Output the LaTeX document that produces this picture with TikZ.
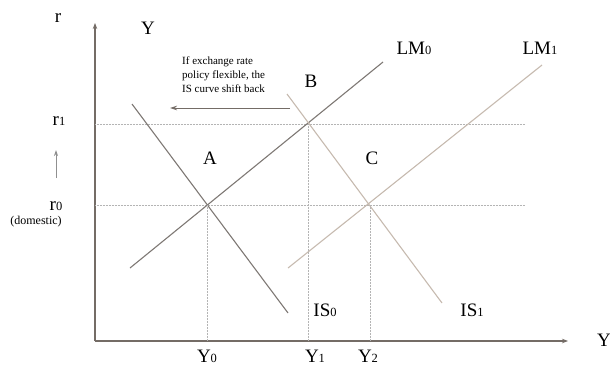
\documentclass[tikz,border=0pt]{standalone}
\usepackage{fontspec}
\setmainfont{Liberation Serif}
\usetikzlibrary{positioning, arrows.meta}
\definecolor{axisgray}{HTML}{746C66}
\definecolor{darkcurve}{HTML}{7E7874}
\definecolor{lightcurve}{HTML}{C6BAAF}
\definecolor{guidegray}{HTML}{B4B4B4}
\newcommand{\lo}[1]{{\fontsize{12.5}{12.5}\selectfont #1}}

\begin{document}
\begin{tikzpicture}[x=1pt, y=-1pt,
  axis/.style={draw=axisgray, line width=1.1pt, -{Stealth[length=6pt, width=4.5pt]}},
  curvezero/.style={draw=darkcurve, line width=1.1pt},
  curveone/.style={draw=lightcurve, line width=1.1pt},
  guide/.style={draw=guidegray, densely dotted, line width=0.5pt},
  lbl/.style={font=\fontsize{19}{19}\selectfont, inner sep=0pt},
  note/.style={font=\fontsize{11}{13.7}\selectfont, inner sep=0pt, align=left}]
  \useasboundingbox (0,0) rectangle (610,367);
  % axes
  \coordinate (origin) at (95,341);
  \coordinate (rtop) at (95,23);
  \coordinate (yend) at (568,341);
  \draw[axis] (origin) -- (rtop);
  \draw[axis] (origin) -- (yend);
  \node[lbl] (rlab) at (58,18) {r};
  \node[lbl] (ylab) at (148,28) {Y};
  \node[lbl] (yright) at (604,340) {Y};
  % interest rate levels
  \coordinate (rone) at (95,124);
  \coordinate (roneend) at (525,124);
  \coordinate (rzero) at (95,205);
  \coordinate (rzeroend) at (525,205);
  \draw[guide] (rone) -- (roneend);
  \draw[guide] (rzero) -- (rzeroend);
  \node[lbl] (r1lab) at (59,121) {r\lo{1}};
  \node[lbl] (r0lab) at (56,206) {r\lo{0}};
  \node[font=\fontsize{12}{12}\selectfont, inner sep=0pt] (dom) at (36,222) {(domestic)};
  \coordinate (upfrom) at (56,178);
  \coordinate (upto) at (56,150);
  \draw[draw=guidegray!80!black, line width=0.8pt, -{Stealth[length=6pt, width=4pt]}] (upfrom) -- (upto);
  % curves
  \coordinate (lm0s) at (130,268);
  \coordinate (lm0e) at (383,62);
  \coordinate (lm1s) at (288,268);
  \coordinate (lm1e) at (542,65);
  \coordinate (is0s) at (132,104);
  \coordinate (is0e) at (288,313);
  \coordinate (is1s) at (287,94);
  \coordinate (is1e) at (442,303);
  \draw[curvezero] (lm0s) -- (lm0e);
  \draw[curveone] (lm1s) -- (lm1e);
  \draw[curvezero] (is0s) -- (is0e);
  \draw[curveone] (is1s) -- (is1e);
  \node[lbl] (lm0lab) at (414,48) {LM\lo{0}};
  \node[lbl] (lm1lab) at (540,48) {LM\lo{1}};
  \node[lbl] (is0lab) at (325,310) {IS\lo{0}};
  \node[lbl] (is1lab) at (472,310) {IS\lo{1}};
  % equilibria
  \coordinate (ptA) at (207,205);
  \coordinate (ptB) at (308,124);
  \coordinate (ptC) at (370,205);
  \coordinate (footA) at (207,341);
  \coordinate (footB) at (308,341);
  \coordinate (footC) at (370,341);
  \draw[guide] (ptA) -- (footA);
  \draw[guide] (ptB) -- (footB);
  \draw[guide] (ptC) -- (footC);
  \node[lbl] (alab) at (210,158) {A};
  \node[lbl] (blab) at (311,81) {B};
  \node[lbl] (clab) at (372,158) {C};
  \node[lbl] (y0lab) at (207,356) {Y\lo{0}};
  \node[lbl] (y1lab) at (315,356) {Y\lo{1}};
  \node[lbl] (y2lab) at (368,356) {Y\lo{2}};
  % shift back
  \node[note, anchor=north west] (shift) at (182,57) {If exchange rate\\policy flexible, the\\IS curve shift back};
  \coordinate (shiftfrom) at (290,108);
  \coordinate (shiftto) at (170,108);
  \draw[draw=axisgray, line width=0.9pt, -{Stealth[length=7pt, width=4.5pt]}] (shiftfrom) -- (shiftto);
\end{tikzpicture}
\end{document}
